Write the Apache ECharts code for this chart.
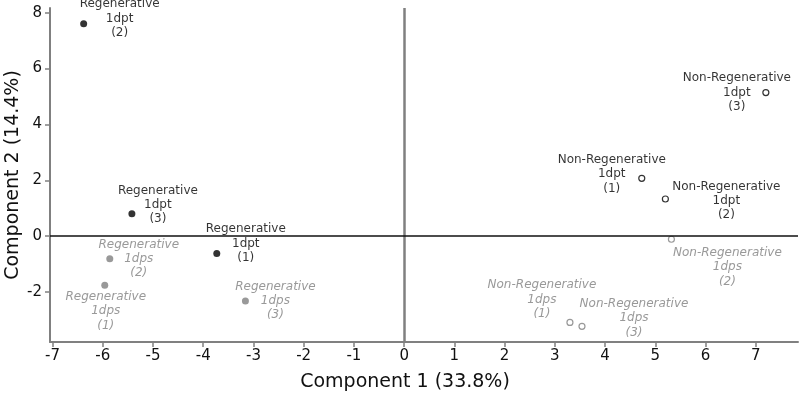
<!DOCTYPE html>
<html>
<head>
<meta charset="utf-8">
<script src="https://cdn.jsdelivr.net/npm/echarts@6/dist/echarts.min.js"></script>
<style>html,body{margin:0;padding:0;background:#fff;}#c{width:800px;height:394px;}</style>
</head>
<body>
<div id="c"></div>
<script>
// ---- data ----
const replicates = ['(1)', '(2)', '(3)'];
const regen1dptX = [-3.73, -6.38, -5.42];
const regen1dptY = [-0.62, 7.61, 0.80];
const regen1dpsX = [-5.96, -5.86, -3.16];
const regen1dpsY = [-1.76, -0.81, -2.32];
const nonRegen1dptX = [4.73, 5.20, 7.20];
const nonRegen1dptY = [2.07, 1.33, 5.14];
const nonRegen1dpsX = [3.30, 5.32, 3.54];
const nonRegen1dpsY = [-3.09, -0.11, -3.23];
const xTicks = [-7, -6, -5, -4, -3, -2, -1, 0, 1, 2, 3, 4, 5, 6, 7];
const yTicks = [-2, 0, 2, 4, 6, 8];

// ---- label placement (pixel offsets) ----
const offRegen1dpt = [[29, -10], [36, -5], [26, -9]];
const offRegen1dps = [[1, 26], [29, 0], [30, 0]];
const offNonRegen1dpt = [[-30, -4], [61, 2], [-29, 0]];
const offNonRegen1dps = [[-28, -23], [56, 28], [52, -8]];

const FONT = 'DejaVu Sans';
const GRAY = '#808080';

function build(xs, ys, group, stage, offs) {
  return xs.map((x, i) => ({
    value: [x, ys[i]],
    label: { formatter: group + '\n' + stage + '\n' + replicates[i], offset: offs[i] }
  }));
}

function labelStyle(color, italic) {
  return {
    show: true, position: 'inside', align: 'center', verticalAlign: 'middle',
    fontFamily: FONT, fontSize: 12, lineHeight: 14.3, color: color,
    fontStyle: italic ? 'italic' : 'normal'
  };
}

const chart = echarts.init(document.getElementById('c'), null, { renderer: 'canvas' });
chart.setOption({
  animation: false,
  backgroundColor: '#fff',
  grid: { left: 50, right: 2, top: 8, bottom: 52, containLabel: false, outerBoundsMode: 'none' },
  xAxis: {
    type: 'value', min: -7.05, max: 7.84,
    name: 'Component 1 (33.8%)', nameLocation: 'middle', nameGap: 31, nameMoveOverlap: false,
    nameTextStyle: { fontFamily: FONT, fontSize: 19, color: '#111', padding: [0, 38, 0, 0] },
    axisLine: { show: true, onZero: false, lineStyle: { color: GRAY, width: 2 } },
    axisTick: { show: true, length: 5, customValues: xTicks, lineStyle: { color: GRAY, width: 1.5 } },
    axisLabel: { customValues: xTicks, margin: 7, fontFamily: FONT, fontSize: 15, color: '#111' },
    splitLine: { show: false }
  },
  yAxis: {
    type: 'value', min: -3.79, max: 8.17,
    name: 'Component 2 (14.4%)', nameLocation: 'middle', nameGap: 27, nameMoveOverlap: false,
    nameTextStyle: { fontFamily: FONT, fontSize: 19, color: '#111' },
    axisLine: { show: true, onZero: false, lineStyle: { color: GRAY, width: 2 } },
    axisTick: { show: true, length: 5, customValues: yTicks, lineStyle: { color: GRAY, width: 1.5 } },
    axisLabel: { customValues: yTicks, margin: 8, fontFamily: FONT, fontSize: 15, color: '#111' },
    splitLine: { show: false }
  },
  series: [
    {
      type: 'scatter', name: 'Regenerative 1dpt', symbol: 'circle', symbolSize: 7,
      itemStyle: { color: '#000' },
      label: labelStyle('#000', false),
      data: build(regen1dptX, regen1dptY, 'Regenerative', '1dpt', offRegen1dpt),
      markLine: {
        silent: true, symbol: 'none', label: { show: false },
        data: [
          { xAxis: 0, lineStyle: { color: GRAY, width: 2.5, type: 'solid' } },
          { yAxis: 0, lineStyle: { color: '#111', width: 1.5, type: 'solid' } }
        ]
      },
      z: 3
    },
    {
      type: 'scatter', name: 'Regenerative 1dps', symbol: 'circle', symbolSize: 7,
      itemStyle: { color: GRAY },
      label: labelStyle(GRAY, true),
      data: build(regen1dpsX, regen1dpsY, 'Regenerative', '1dps', offRegen1dps),
      z: 3
    },
    {
      type: 'scatter', name: 'Non-Regenerative 1dpt', symbol: 'circle', symbolSize: 6,
      itemStyle: { color: '#fff', borderColor: '#000', borderWidth: 1.2 },
      label: labelStyle('#000', false),
      data: build(nonRegen1dptX, nonRegen1dptY, 'Non-Regenerative', '1dpt', offNonRegen1dpt),
      z: 3
    },
    {
      type: 'scatter', name: 'Non-Regenerative 1dps', symbol: 'circle', symbolSize: 6,
      itemStyle: { color: '#fff', borderColor: GRAY, borderWidth: 1.2 },
      label: labelStyle(GRAY, true),
      data: build(nonRegen1dpsX, nonRegen1dpsY, 'Non-Regenerative', '1dps', offNonRegen1dps),
      z: 3
    }
  ]
});
</script>
</body>
</html>
